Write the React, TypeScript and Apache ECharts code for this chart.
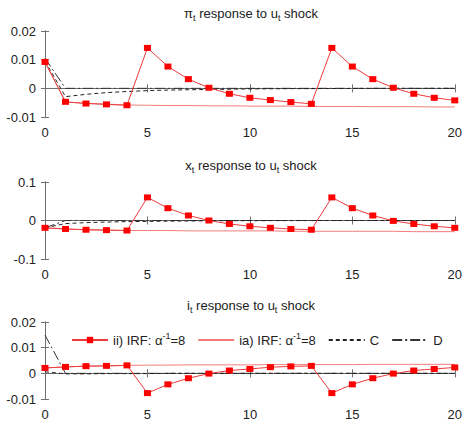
import React, { useEffect, useRef } from 'react';
import * as echarts from 'echarts';

const T = [0, 1, 2, 3, 4, 5, 6, 7, 8, 9, 10, 11, 12, 13, 14, 15, 16, 17, 18, 19, 20];
const X_TICKS = [0, 5, 10, 15, 20];

const NAME_II = 'ii) IRF: α^-1=8';
const NAME_IA = 'ia) IRF: α^-1=8';
const NAME_C = 'C';
const NAME_D = 'D';

// π_t panel
const piII = [0.0092, -0.0047, -0.0053, -0.0056, -0.0059, 0.0141, 0.0076, 0.0032, 0.0002, -0.0019, -0.0033, -0.0041, -0.0048, -0.0054, 0.0141, 0.0076, 0.0032, 0.0002, -0.0019, -0.0033, -0.0042];
const piIA = [0.0092, -0.0048, -0.0052, -0.0055, -0.0058, -0.0059, -0.006, -0.006, -0.0061, -0.0061, -0.0062, -0.0062, -0.0062, -0.0063, -0.0063, -0.0063, -0.0064, -0.0064, -0.0064, -0.0065, -0.0065];
const piC = [0.0095, -0.0029, -0.0021, -0.0015, -0.0011, -0.0008, -0.0006, -0.0005, -0.0004, -0.0003, -0.0002, -0.00015, -0.0001, -0.0001, -0.00005, -0.00005, 0, 0, 0, 0, 0];
const piD = [0.0105, 0, 0, 0, 0, 0, 0, 0, 0, 0, 0, 0, 0, 0, 0, 0, 0, 0, 0, 0, 0];

// x_t panel
const xII = [-0.019, -0.022, -0.024, -0.025, -0.026, 0.06, 0.032, 0.013, 0.0, -0.009, -0.015, -0.019, -0.022, -0.024, 0.06, 0.032, 0.013, -0.001, -0.009, -0.015, -0.019];
const xIA = [-0.019, -0.022, -0.024, -0.025, -0.026, -0.026, -0.026, -0.027, -0.027, -0.027, -0.027, -0.027, -0.028, -0.028, -0.028, -0.028, -0.028, -0.028, -0.029, -0.029, -0.029];
const xC = [-0.019, -0.008, -0.0055, -0.004, -0.003, -0.0022, -0.0016, -0.0012, -0.0009, -0.0006, -0.0004, -0.0003, -0.0002, -0.0001, -0.0001, 0, 0, 0, 0, 0, 0];
const xD = [-0.019, 0, 0, 0, 0, 0, 0, 0, 0, 0, 0, 0, 0, 0, 0, 0, 0, 0, 0, 0, 0];

// i_t panel
const iII = [0.0021, 0.0025, 0.0028, 0.0029, 0.0031, -0.0077, -0.0043, -0.0019, -0.0001, 0.0011, 0.0017, 0.0024, 0.0027, 0.0029, -0.0077, -0.0043, -0.0019, -0.0001, 0.0011, 0.0017, 0.0023];
const iIA = [0.0021, 0.0025, 0.0028, 0.0029, 0.0031, 0.0032, 0.0032, 0.0033, 0.0033, 0.0033, 0.0033, 0.0034, 0.0034, 0.0034, 0.0034, 0.0034, 0.0035, 0.0035, 0.0035, 0.0035, 0.0035];
const iC = [0.0006, -0.0002, -0.0002, -0.0001, -0.0001, -0.0001, 0, 0, 0, 0, 0, 0, 0, 0, 0, 0, 0, 0, 0, 0, 0];
const iD = [0.0149, 0, 0, 0, 0, 0, 0, 0, 0, 0, 0, 0, 0, 0, 0, 0, 0, 0, 0, 0, 0];

const Y_RANGES = [
  { min: -0.01, max: 0.02, interval: 0.01 },
  { min: -0.1, max: 0.1, interval: 0.1 },
  { min: -0.01, max: 0.02, interval: 0.01 },
];

const PANELS = [
  { title: '{m|π}{s|t}{m| response to u}{s|t}{m| shock}', ii: piII, ia: piIA, c: piC, d: piD },
  { title: '{m|x}{s|t}{m| response to u}{s|t}{m| shock}', ii: xII, ia: xIA, c: xC, d: xD },
  { title: '{m|i}{s|t}{m| response to u}{s|t}{m| shock}', ii: iII, ia: iIA, c: iC, d: iD },
];

const FONT = '"Liberation Sans", Arial, Helvetica, sans-serif';
const FRAME = '#707070';
const GRIDS = [
  { left: 45, top: 31, width: 410, height: 86 },
  { left: 45, top: 182, width: 410, height: 77 },
  { left: 45, top: 322, width: 410, height: 77 },
];
const TITLE_Y = [13, 165, 305];

function pairs(v: number[]) {
  return T.map((t, i) => [t, v[i]]);
}

function buildOption() {
  const xAxis: any[] = [];
  const yAxis: any[] = [];
  const series: any[] = [];
  GRIDS.forEach((_, g) => {
    const xBase = {
      type: 'value', gridIndex: g, min: 0, max: 20, interval: 5,
      axisLine: { show: true, lineStyle: { color: FRAME, width: 1 } },
      axisTick: { show: true, inside: true, length: 4, lineStyle: { color: FRAME } },
      splitLine: { show: false },
    };
    xAxis.push({ ...xBase, position: 'bottom', axisLabel: { show: true, fontSize: 13, color: '#222', fontFamily: FONT, margin: 9, formatter: (v: number) => (X_TICKS.includes(v) ? String(v) : '') } });
    xAxis.push({ ...xBase, position: 'top', axisLabel: { show: false } });
    const yBase = {
      type: 'value', gridIndex: g, ...Y_RANGES[g],
      axisLine: { show: true, lineStyle: { color: FRAME, width: 1 } },
      axisTick: { show: true, inside: true, length: 4, lineStyle: { color: FRAME } },
      splitLine: { show: false },
    };
    yAxis.push({ ...yBase, position: 'left', axisLabel: { show: true, fontSize: 13, color: '#222', fontFamily: FONT, margin: 9 } });
    yAxis.push({ ...yBase, position: 'right', axisLabel: { show: false } });

    const p = PANELS[g];
    const common = { xAxisIndex: 2 * g, yAxisIndex: 2 * g, silent: true };
    series.push({ ...common, name: NAME_D, type: 'line', data: pairs(p.d), symbol: 'none', lineStyle: { color: '#333', width: 1, type: [10, 3, 2, 3] }, itemStyle: { color: '#333' }, z: 2 });
    series.push({ ...common, name: NAME_C, type: 'line', data: pairs(p.c), symbol: 'none', lineStyle: { color: '#222', width: 1, type: [4, 3] }, itemStyle: { color: '#222' }, z: 3 });
    series.push({ ...common, name: NAME_IA, type: 'line', data: pairs(p.ia), symbol: 'none', lineStyle: { color: '#f27c7c', width: 1 }, itemStyle: { color: '#f27c7c' }, z: 4 });
    series.push({ ...common, name: NAME_II, type: 'line', data: pairs(p.ii), symbol: 'rect', symbolSize: [7, 6], lineStyle: { color: '#ee3b3b', width: 1 }, itemStyle: { color: '#ff0000' }, z: 5 });
  });

  const graphic = PANELS.map((p, g) => ({
    type: 'text',
    x: 251,
    y: TITLE_Y[g],
    style: {
      text: p.title,
      align: 'center',
      verticalAlign: 'middle',
      rich: {
        m: { fontSize: 13, lineHeight: 18, fontFamily: FONT, fill: '#222' },
        s: { fontSize: 9, lineHeight: 9, verticalAlign: 'bottom', fontFamily: FONT, fill: '#222' },
      },
    },
  }));

  const hidden = { itemStyle: { opacity: 0 } };

  return {
    animation: false,
    backgroundColor: '#fff',
    grid: GRIDS.map((g) => ({ ...g, containLabel: false })),
    xAxis,
    yAxis,
    series,
    graphic,
    legend: {
      data: [
        { name: NAME_II },
        { name: NAME_IA, ...hidden },
        { name: NAME_C, ...hidden },
        { name: NAME_D, ...hidden },
      ],
      left: 66,
      top: 326,
      itemWidth: 36,
      itemHeight: 8,
      itemGap: 12,
      selectedMode: false,
      formatter: (name: string) => name.replace('α^-1', 'α{sup|-1}'),
      textStyle: {
        fontSize: 13,
        color: '#222',
        fontFamily: FONT,
        lineHeight: 18,
        rich: {
          sup: { fontSize: 9, lineHeight: 9, verticalAlign: 'top', fontFamily: FONT, color: '#222' },
        },
      },
    },
  };
}

export default function App() {
  const ref = useRef<HTMLDivElement>(null);
  useEffect(() => {
    document.body.style.margin = '0';
    const chart = echarts.init(ref.current!, null, { renderer: 'svg' });
    chart.setOption(buildOption() as any);
    return () => chart.dispose();
  }, []);
  return <div ref={ref} style={{ width: 465, height: 421 }} />;
}
